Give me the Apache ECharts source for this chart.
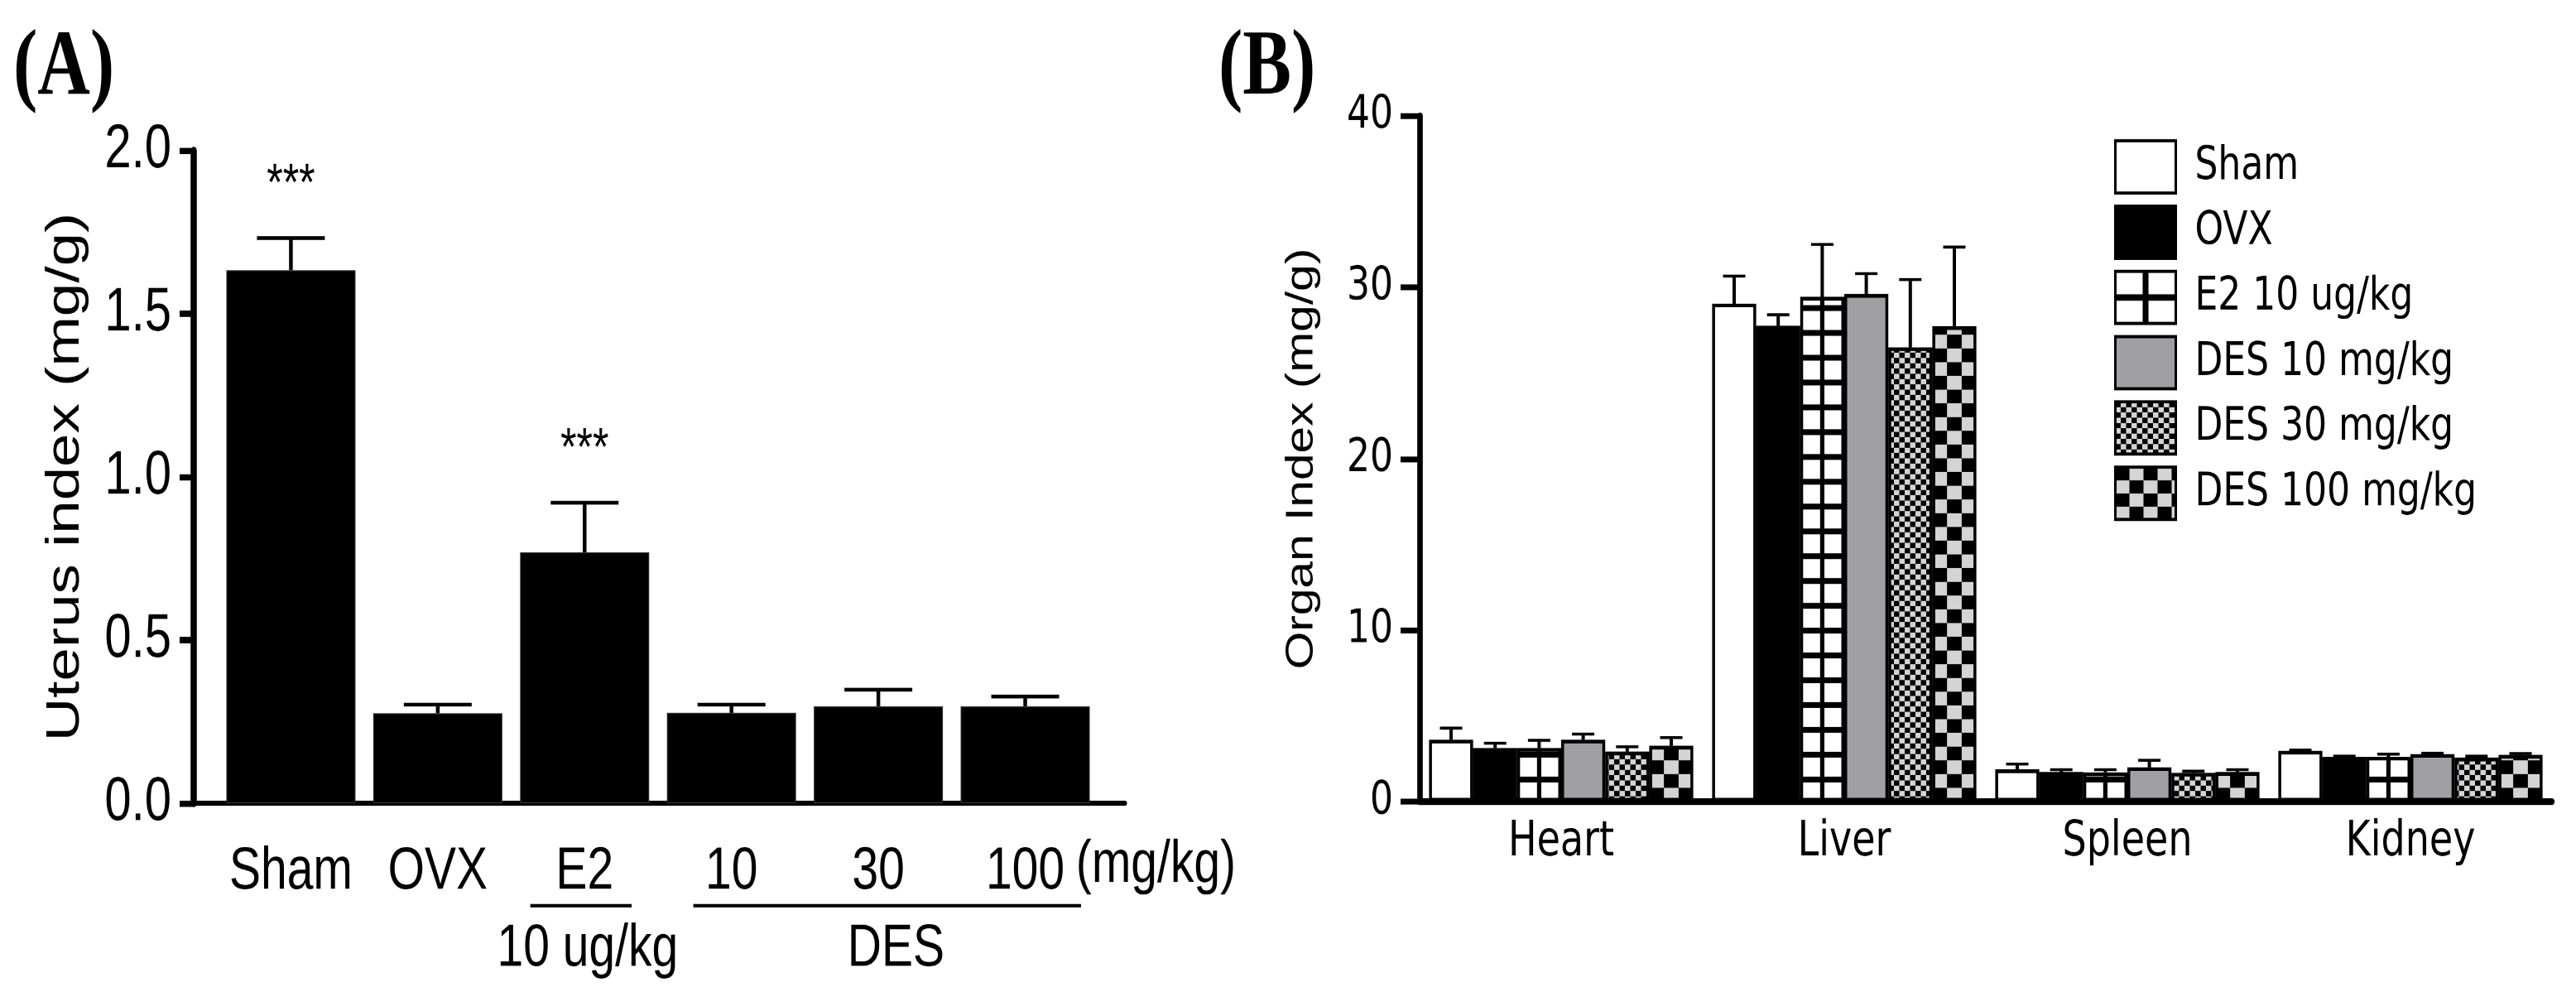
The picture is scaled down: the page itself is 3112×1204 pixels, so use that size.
<!DOCTYPE html>
<html>
<head>
<meta charset="utf-8">
<script src="https://cdn.jsdelivr.net/npm/echarts@6/dist/echarts.min.js"></script>
<style>
html,body{margin:0;padding:0;background:#fff;overflow:hidden;}
#wrap{width:3112px;height:1204px;overflow:hidden;background:#fff;}
#chart{width:3112px;height:944px;transform-origin:0 0;}
</style>
</head>
<body>
<div id="wrap"><div id="chart"></div></div>
<script>
// ---------- data: panel A ----------
const uterusCategories = ['Sham', 'OVX', 'E2', '10', '30', '100'];
const uterusMean = [1.634, 0.276, 0.769, 0.277, 0.297, 0.297];
const uterusErr  = [0.098, 0.026, 0.152, 0.025, 0.051, 0.030];
const uterusSig  = ['***', '', '***', '', '', ''];
const uterusTicks = [0, 0.5, 1.0, 1.5, 2.0];
const uterusSubLabels = ['10 ug/kg', 'DES'];
const uterusUnit = '(mg/kg)';

// ---------- data: panel B ----------
const organs = ['Heart', 'Liver', 'Spleen', 'Kidney'];
const groupNames = ['Sham', 'OVX', 'E2 10 ug/kg', 'DES 10 mg/kg', 'DES 30 mg/kg', 'DES 100 mg/kg'];
const shamMean   = [3.61, 29.05, 1.87, 2.96];
const shamErr    = [0.67, 1.61, 0.32, 0.04];
const ovxMean    = [3.12, 27.76, 1.72, 2.61];
const ovxErr     = [0.28, 0.64, 0.14, 0.03];
const e2Mean     = [3.12, 29.45, 1.70, 2.61];
const e2Err      = [0.45, 3.05, 0.16, 0.16];
const des10Mean  = [3.61, 29.61, 2.00, 2.77];
const des10Err   = [0.32, 1.19, 0.40, 0.04];
const des30Mean  = [2.91, 26.50, 1.67, 2.56];
const des30Err   = [0.29, 3.95, 0.10, 0.08];
const des100Mean = [3.25, 27.73, 1.72, 2.72];
const des100Err  = [0.48, 4.62, 0.14, 0.08];
const organTicks = [0, 10, 20, 30, 40];

// ---------- layout (chart is drawn 944px tall and stretched vertically like the source figure) ----------
const H = 944, SY = 1204 / H;
document.getElementById('chart').style.transform = 'scaleY(' + SY + ')';
const gridA = {left: 234, top: 142.7, width: 1125, height: 617.8};
const gridB = {left: 1715, top: 109.8, width: 1368, height: 649.1};
const BAND = gridB.width / organs.length;
const BW = 53.2;
const G0 = (BAND - 6 * BW) / 2;
const BW_A = 156;

const means = [shamMean, ovxMean, e2Mean, des10Mean, des30Mean, des100Mean];
const errs  = [shamErr, ovxErr, e2Err, des10Err, des30Err, des100Err];

// ---------- fill patterns ----------
function tile(w, h, draw) {
  const R = 2;
  const c = document.createElement('canvas');
  c.width = Math.round(w * R); c.height = Math.round(h * R);
  const g = c.getContext('2d');
  g.scale(c.width / w, c.height / h);
  draw(g, w, h);
  return c;
}
function pat(canvas, x, y) {
  return {image: canvas, repeat: 'repeat', x: x || 0, y: y || 0, scaleX: 0.5, scaleY: 0.5};
}
const LIGHT = '#d4d4d4';
const GRAY = '#a0a0a4';
const bBottom = gridB.top + gridB.height;

const e2Tile = tile(BAND, 23.5, (g, w, h) => {
  g.fillStyle = '#fff'; g.fillRect(0, 0, w, h);
  g.fillStyle = '#000'; g.fillRect(0, 0, w, 5.5);
  const cx = G0 + 2.5 * BW; g.fillRect(cx - 2.6, 0, 5.2, h);
});
const d30Tile = tile(13, 10, (g, w, h) => {
  g.fillStyle = LIGHT; g.fillRect(0, 0, w, h);
  g.fillStyle = '#000'; g.fillRect(0, 0, 6.5, 5); g.fillRect(6.5, 5, 6.5, 5);
});
const d100Tile = tile(BAND, 26, (g, w, h) => {
  g.fillStyle = LIGHT; g.fillRect(0, 0, w, h);
  g.fillStyle = '#000';
  const left = G0 + 5 * BW, cw = BW / 3;
  for (let c = 0; c < 3; c++) for (let r = 0; r < 2; r++)
    if ((c + r) % 2 === 1) g.fillRect(left + c * cw, r * 13, cw, 13);
});
const barFills = [
  '#ffffff', '#000000',
  pat(e2Tile, gridB.left, bBottom),
  GRAY,
  pat(d30Tile, 0, bBottom),
  pat(d100Tile, gridB.left, bBottom)
];
// legend icons
const LW = 73, LH = 49.4;
const e2Leg = tile(LW, LH, (g, w, h) => {
  g.fillStyle = '#fff'; g.fillRect(0, 0, w, h);
  g.fillStyle = '#000'; g.fillRect(w / 2 - 3.5, 0, 7, h); g.fillRect(0, h / 2 - 3, w, 6);
});
const d100Leg = tile(34, 25, (g, w, h) => {
  g.fillStyle = LIGHT; g.fillRect(0, 0, w, h);
  g.fillStyle = '#000'; g.fillRect(0, 0, 17, 12.5); g.fillRect(17, 12.5, 17, 12.5);
});
const legendFills = ['#ffffff', '#000000', pat(e2Leg), GRAY, pat(d30Tile), pat(d100Leg)];

// ---------- error bar renderers ----------
function errA(params, api) {
  const x = api.value(0), m = api.value(1), e = api.value(2);
  const p0 = api.coord([x, m]), p1 = api.coord([x, m + e]);
  const cap = 82;
  const sig = uterusSig[params.dataIndex];
  const ch = [
    {type: 'line', shape: {x1: p0[0], y1: p0[1], x2: p1[0], y2: p1[1]}, style: {stroke: '#000', lineWidth: 4.5}},
    {type: 'line', shape: {x1: p1[0] - cap / 2, y1: p1[1], x2: p1[0] + cap / 2, y2: p1[1]}, style: {stroke: '#000', lineWidth: 3.6}}
  ];
  if (sig) ch.push({type: 'text', x: p1[0], y: p1[1] - 50, style: {text: sig, fill: '#000', font: '50px "Liberation Sans"', align: 'center', verticalAlign: 'middle'}});
  return {type: 'group', children: ch};
}
function makeErrB(k) {
  return function (params, api) {
    const j = api.value(0), m = api.value(1), e = api.value(2);
    const base = api.coord([j, m]);
    const xc = base[0] + (k - 2.5) * BW;
    const yt = base[1];
    const ye = api.coord([j, m + e])[1];
    const cap = 27;
    return {type: 'group', children: [
      {type: 'line', shape: {x1: xc, y1: yt, x2: xc, y2: ye}, style: {stroke: '#000', lineWidth: 4}},
      {type: 'line', shape: {x1: xc - cap / 2, y1: ye, x2: xc + cap / 2, y2: ye}, style: {stroke: '#000', lineWidth: 2.8}}
    ]};
  };
}

// ---------- series ----------
const series = [
  {
    name: 'Uterus index', type: 'bar', xAxisIndex: 0, yAxisIndex: 0,
    data: uterusMean.map((v, i) => [i, v]),
    barWidth: BW_A,
    itemStyle: {color: '#000', borderColor: '#333', borderWidth: 1}
  },
  {
    name: 'Uterus err', type: 'custom', xAxisIndex: 0, yAxisIndex: 0, z: 3,
    data: uterusMean.map((v, i) => [i, v, uterusErr[i]]),
    encode: {x: 0, y: 1},
    renderItem: errA
  }
];
groupNames.forEach((n, k) => {
  series.push({
    name: n, type: 'bar', xAxisIndex: 1, yAxisIndex: 1,
    data: means[k], barWidth: BW, barGap: '0%',
    itemStyle: {color: barFills[k], borderColor: '#000', borderWidth: 3.5}
  });
});
groupNames.forEach((n, k) => {
  series.push({
    name: 'err ' + n, type: 'custom', xAxisIndex: 1, yAxisIndex: 1, z: 3,
    data: means[k].map((v, j) => [j, v, errs[k][j]]),
    encode: {x: 0, y: 1},
    renderItem: makeErrB(k)
  });
});

const chart = echarts.init(document.getElementById('chart'), null, {renderer: 'canvas', devicePixelRatio: 2, width: 3112, height: H});
chart.setOption({
  animation: false,
  backgroundColor: '#fff',
  title: [
    {text: '(A)', left: 16, top: 22, padding: 0, textStyle: {fontFamily: 'Liberation Serif', fontWeight: 'bold', fontSize: 88, color: '#000'}},
    {text: '(B)', left: 1472, top: 22, padding: 0, textStyle: {fontFamily: 'Liberation Serif', fontWeight: 'bold', fontSize: 88, color: '#000'}}
  ],
  grid: [
    {left: gridA.left, top: gridA.top, width: gridA.width, height: gridA.height},
    {left: gridB.left, top: gridB.top, width: gridB.width, height: gridB.height}
  ],
  legend: {
    orient: 'vertical', left: 2554, top: 131.8, padding: 0,
    itemWidth: LW, itemHeight: LH, itemGap: 9.4, icon: 'rect', selectedMode: false,
    textStyle: {fontFamily: 'DejaVu Sans', fontSize: 44, color: '#000', padding: [0, 0, 0, 18]},
    data: groupNames.map((n, k) => ({name: n, itemStyle: {color: legendFills[k], borderColor: '#000', borderWidth: 3}}))
  },
  xAxis: [
    {
      gridIndex: 0, type: 'value', min: -0.662, max: 5.679,
      splitLine: {show: false}, axisTick: {show: false},
      axisLine: {onZero: false, lineStyle: {color: '#000', width: 5.1}},
      axisLabel: {
        customValues: uterusCategories.map((c, i) => i),
        formatter: v => uterusCategories[Math.round(v)],
        fontFamily: 'Liberation Sans', fontSize: 57, color: '#000', margin: 37
      }
    },
    {
      gridIndex: 1, type: 'category', data: organs,
      axisTick: {show: false},
      axisLine: {lineStyle: {color: '#000', width: 6.3}},
      axisLabel: {fontFamily: 'DejaVu Sans', fontSize: 46, color: '#000', margin: 16}
    }
  ],
  yAxis: [
    {
      gridIndex: 0, type: 'value', min: uterusTicks[0], max: uterusTicks[uterusTicks.length - 1], interval: 0.5,
      name: 'Uterus index (mg/g)', nameLocation: 'middle', nameGap: 126,
      nameTextStyle: {fontFamily: 'Liberation Sans', fontSize: 57, color: '#000'},
      splitLine: {show: false},
      axisLine: {show: true, onZero: false, lineStyle: {color: '#000', width: 7.5}},
      axisTick: {show: true, length: 17, lineStyle: {color: '#000', width: 6}},
      axisLabel: {formatter: v => v.toFixed(1), fontFamily: 'Liberation Sans', fontSize: 58, color: '#000', margin: 27}
    },
    {
      gridIndex: 1, type: 'value', min: organTicks[0], max: organTicks[organTicks.length - 1], interval: 10,
      name: 'Organ Index (mg/g)', nameLocation: 'middle', nameGap: 119,
      nameTextStyle: {fontFamily: 'Liberation Sans', fontSize: 46, color: '#000'},
      splitLine: {show: false},
      axisLine: {show: true, onZero: false, lineStyle: {color: '#000', width: 6.7}},
      axisTick: {show: true, length: 23, lineStyle: {color: '#000', width: 5.5}},
      axisLabel: {fontFamily: 'DejaVu Sans', fontSize: 44, color: '#000', margin: 32}
    }
  ],
  series: series
});

// ---------- group annotations below panel A (placed through the axis scales) ----------
function pA(x, y) { return chart.convertToPixel({gridIndex: 0}, [x, y]); }
const lineY = -0.314, subY = -0.447, unitY = -0.19;
const e2L = [pA(1.63, lineY), pA(2.32, lineY)];
const desL = [pA(2.74, lineY), pA(5.38, lineY)];
const subE2 = pA(2.02, subY), subDES = pA(4.12, subY), unitP = pA(5.89, unitY);
const txt = (p, t) => ({type: 'text', x: p[0], y: p[1], style: {text: t, fill: '#000', font: '57px "Liberation Sans"', align: 'center', verticalAlign: 'middle'}});
const ln = (a, b) => ({type: 'line', shape: {x1: a[0], y1: a[1], x2: b[0], y2: b[1]}, style: {stroke: '#000', lineWidth: 3.2}});
chart.setOption({
  graphic: [
    ln(e2L[0], e2L[1]), ln(desL[0], desL[1]),
    txt(subE2, uterusSubLabels[0]), txt(subDES, uterusSubLabels[1]), txt(unitP, uterusUnit)
  ]
});
</script>
</body>
</html>
